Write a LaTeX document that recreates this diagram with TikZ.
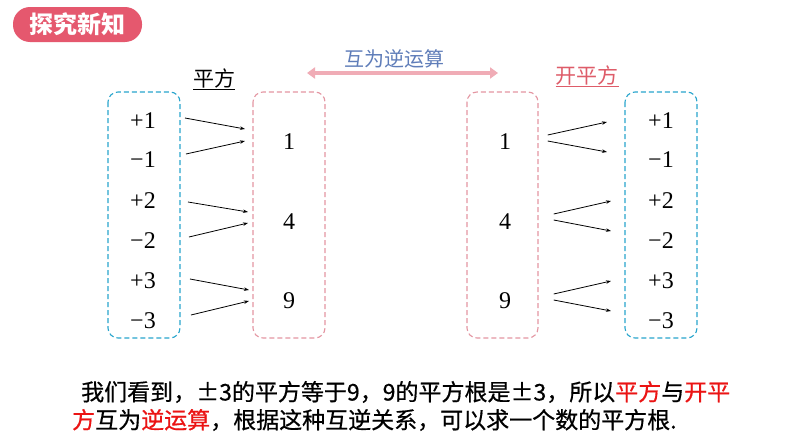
\documentclass[tikz,border=0pt]{standalone}
\usepackage{fontspec}
\setmainfont{Liberation Serif}
\newfontfamily\cjk{Noto Sans CJK SC}
\newfontfamily\cjkb[FakeBold=0.6]{Noto Sans CJK SC}
\usetikzlibrary{arrows.meta}
\definecolor{hdr}{RGB}{229,88,110}
\definecolor{bluebox}{RGB}{40,165,205}
\definecolor{pinkbox}{RGB}{228,150,162}
\definecolor{pinkarrow}{RGB}{240,172,182}
\definecolor{invtext}{RGB}{95,125,185}
\definecolor{redlabel}{RGB}{222,92,105}
\definecolor{redtext}{RGB}{235,20,20}
\tikzset{
  dbox/.style={dashed,dash pattern=on 5pt off 3pt,line width=1.1pt,rounded corners=10pt},
  num/.style={font=\fontsize{24}{26}\selectfont,inner sep=0pt},
  arr/.style={line width=0.8pt,-{Stealth[length=5pt,width=3.5pt]}},
  cjktxt/.style={font=\cjkb\fontsize{23}{27}\selectfont,inner sep=0pt,anchor=west}
}
\begin{document}
\begin{tikzpicture}[x=1pt,y=-1pt]
\useasboundingbox (0,0) rectangle (794,447);
\fill[white] (0,0) rectangle (794,447);
% header
\node[fill=hdr,rounded corners=17pt,minimum width=129pt,minimum height=35pt,inner sep=0pt,
  text=white,font=\cjk\bfseries\fontsize{24}{26}\selectfont] (hdr) at (77.5,24.5) {探究新知};
% boxes
\draw[dbox,bluebox] (108,92) rectangle (180,338);
\draw[dbox,pinkbox] (253,92) rectangle (325,338);
\draw[dbox,pinkbox] (467,92) rectangle (538,338);
\draw[dbox,bluebox] (625,92) rectangle (697,338);
% titles
\node[font=\cjk\fontsize{21}{23}\selectfont,inner sep=1pt] (tl) at (214,79) {\underline{平方}};
\node[font=\cjk\fontsize{21}{23}\selectfont,inner sep=1pt,text=redlabel] (tr) at (587,76) {\underline{开平方}};
\coordinate (inva) at (307,73);
\coordinate (invb) at (498,73);
\draw[pinkarrow,line width=4.5pt,{Triangle[length=8pt,width=11pt]}-{Triangle[length=8pt,width=11pt]}] (inva) -- (invb);
\node[font=\cjk\fontsize{20}{22}\selectfont,text=invtext] (invt) at (394,59) {互为逆运算};
% left column
\node[num] (lp1) at (143,121) {+1};
\node[num] (lm1) at (143,160) {−1};
\node[num] (lp2) at (143,201) {+2};
\node[num] (lm2) at (143,241) {−2};
\node[num] (lp3) at (143,281) {+3};
\node[num] (lm3) at (143,321) {−3};
\node[num] (l1) at (289,142) {1};
\node[num] (l4) at (289,222) {4};
\node[num] (l9) at (289,301) {9};
% right
\node[num] (r1) at (505,142) {1};
\node[num] (r4) at (505,222) {4};
\node[num] (r9) at (505,301) {9};
\node[num] (rp1) at (661,121) {+1};
\node[num] (rm1) at (661,160) {−1};
\node[num] (rp2) at (661,201) {+2};
\node[num] (rm2) at (661,241) {−2};
\node[num] (rp3) at (661,281) {+3};
\node[num] (rm3) at (661,321) {−3};
% left arrows
\draw[arr] ([shift={(29,-3)}]lp1.east) -- (245,129);
\draw[arr] ([shift={(30,-6)}]lm1.east) -- (245,141);
\draw[arr] ([shift={(32,1)}]lp2.east) -- (248,212);
\draw[arr] ([shift={(33,-4)}]lm2.east) -- (248,223);
\draw[arr] ([shift={(34,-2)}]lp3.east) -- (249,290);
\draw[arr] ([shift={(35,-6)}]lm3.east) -- (249,301);
% right arrows
\draw[arr] ([shift={(36.5,-7)}]r1.east) -- (607,122);
\draw[arr] ([shift={(36.5,-1)}]r1.east) -- (607,152);
\draw[arr] ([shift={(42.5,-8)}]r4.east) -- (611,201);
\draw[arr] ([shift={(42.5,-2)}]r4.east) -- (611,231);
\draw[arr] ([shift={(42.5,-7)}]r9.east) -- (611,281);
\draw[arr] ([shift={(42.5,-1)}]r9.east) -- (611,311);
% bottom text
\node[cjktxt] (t1) at (81,392) {我们看到，±3的平方等于9，9的平方根是±3，所以\textcolor{redtext}{平方}与\textcolor{redtext}{开平}};
\node[cjktxt] (t2) at (72,420) {\textcolor{redtext}{方}互为\textcolor{redtext}{逆运算}，根据这种互逆关系，可以求一个数的平方根.};
\end{tikzpicture}
\end{document}
